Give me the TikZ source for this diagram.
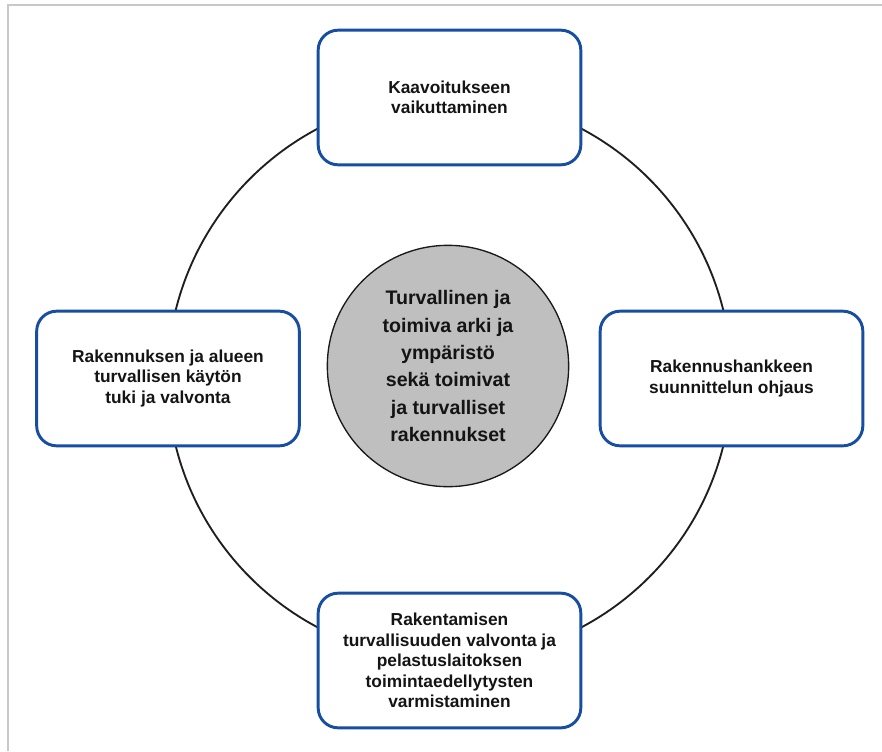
\documentclass[tikz,border=0pt]{standalone}
\usepackage{fontspec}
\setmainfont{Liberation Sans}
\definecolor{boxblue}{RGB}{24,78,162}
\definecolor{rulegray}{RGB}{200,200,200}
\begin{document}
\begin{tikzpicture}[x=0.75pt,y=-0.75pt,
  framegray/.style={draw=rulegray,line width=1.5pt},
  ring/.style={draw=black!88,line width=1.4pt},
  taskbox/.style={draw=boxblue,line width=2.2pt,fill=white,rounded corners=15pt,
    minimum width=197pt,minimum height=101pt,align=center,inner sep=2pt,
    font=\fontsize{13pt}{15.4pt}\selectfont\bfseries,text=black!92},
  hub/.style={circle,draw=black!90,line width=1pt,fill=black!25,minimum size=181pt,inner sep=0pt,
    align=center,font=\fontsize{14.7pt}{20.5pt}\selectfont\bfseries,text=black!92}]
  \useasboundingbox (0,0) rectangle (882,751);
  % page frame (top and left rules)
  \draw[framegray] (8,751) -- (8,5) -- (882,5);
  % ring linking the four tasks
  \coordinate (ringc) at (449.5,378);
  \draw[ring] (ringc) circle[radius=211.5pt];
  % central goal
  \node[hub] (goal) at (448,366) {Turvallinen ja\\toimiva arki ja\\ympäristö\\sekä toimivat\\ja turvalliset\\rakennukset};
  % the four tasks around the ring
  \node[taskbox] (plan) at (449.5,97.5) {Kaavoitukseen\\vaikuttaminen};
  \node[taskbox] (design) at (731.5,378.5) {Rakennushankkeen\\suunnittelun ohjaus};
  \node[taskbox] (build) at (449.5,660.5) {Rakentamisen\\turvallisuuden valvonta ja\\pelastuslaitoksen\\toimintaedellytysten\\varmistaminen};
  \node[taskbox] (use) at (168,378.5) {Rakennuksen ja alueen\\turvallisen käytön\\tuki ja valvonta};
\end{tikzpicture}
\end{document}
